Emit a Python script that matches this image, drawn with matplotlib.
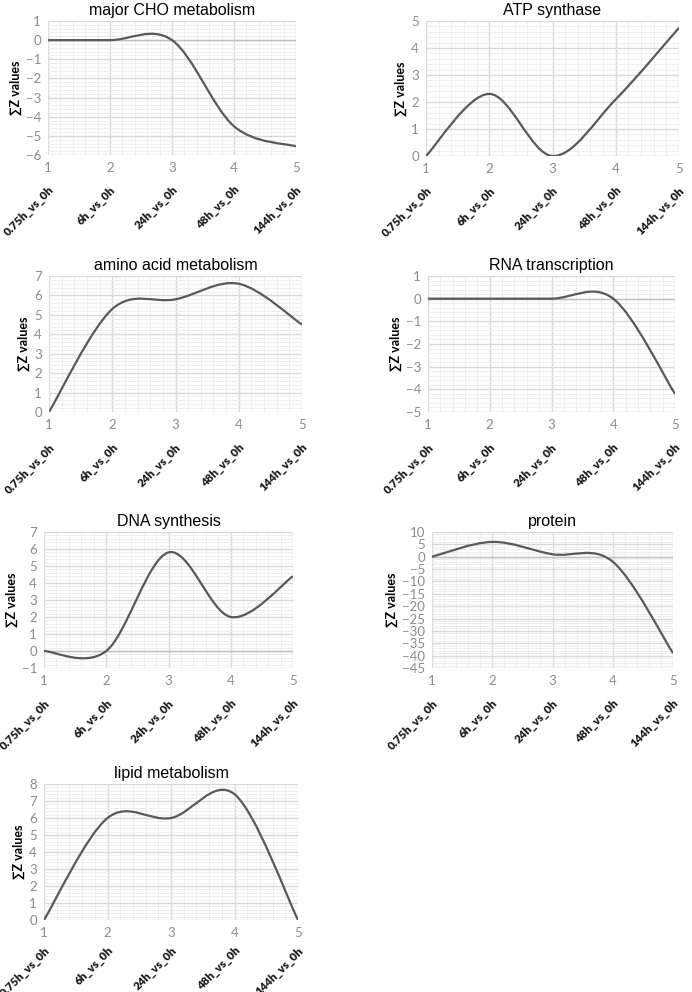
import matplotlib
matplotlib.use("Agg")
import matplotlib.pyplot as plt
from matplotlib.path import Path
from matplotlib.patches import PathPatch
from matplotlib.ticker import MultipleLocator, AutoMinorLocator
import matplotlib.transforms as mtransforms

plt.rcParams['font.family'] = ['Lato', 'DejaVu Sans']

x = [1, 2, 3, 4, 5]
cats = ["0.75h_vs_0h", "6h_vs_0h", "24h_vs_0h", "48h_vs_0h", "144h_vs_0h"]

cho = [0, 0, 0, -4.5, -5.55]
atp = [0, 2.3, 0, 2.1, 4.75]
amino = [0, 5.3, 5.8, 6.6, 4.5]
rna = [0, 0, 0, 0, -4.2]
dna = [0, 0, 5.8, 2.0, 4.4]
protein = [0, 6, 1, -2, -39]
lipid = [0, 6, 6, 7.4, 0]

titles = ["major CHO metabolism", "ATP synthase", "amino acid metabolism",
          "RNA transcription", "DNA synthesis", "protein", "lipid metabolism"]
series = [cho, atp, amino, rna, dna, protein, lipid]
ylims = [(-6, 1), (0, 5), (0, 7), (-5, 1), (-1, 7), (-45, 10), (0, 8)]
ysteps = [1, 1, 1, 1, 1, 5, 1]

# axes boxes in pixels: left, right, top, bottom
boxes = [(48, 296, 21, 155), (426, 679, 21, 156),
         (49, 302, 276, 412), (428, 675, 276, 412),
         (44, 293, 532, 668), (432, 673, 532, 668),
         (44, 298, 784, 920)]

W, H = 692, 992
fig = plt.figure(figsize=(W / 100, H / 100), dpi=100)


def smooth_path(xs, ys):
    # excel style smoothed line: cubic bezier, catmull-rom tangents
    pts = list(zip(xs, ys))
    n = len(pts)
    verts = [pts[0]]
    codes = [Path.MOVETO]
    for i in range(n - 1):
        p0 = pts[max(i - 1, 0)]
        p1 = pts[i]
        p2 = pts[i + 1]
        p3 = pts[min(i + 2, n - 1)]
        c1 = (p1[0] + (p2[0] - p0[0]) / 6, p1[1] + (p2[1] - p0[1]) / 6)
        c2 = (p2[0] - (p3[0] - p1[0]) / 6, p2[1] - (p3[1] - p1[1]) / 6)
        verts += [c1, c2, p2]
        codes += [Path.CURVE4] * 3
    return Path(verts, codes)


for k in range(7):
    l, r, t, b = boxes[k]
    ax = fig.add_axes([l / W, 1 - b / H, (r - l) / W, (b - t) / H])
    ax.add_patch(PathPatch(smooth_path(x, series[k]), fill=False,
                           edgecolor="#595959", lw=1.6, zorder=3))
    ax.set_xlim(1, 5)
    ax.set_ylim(*ylims[k])
    ax.xaxis.set_major_locator(MultipleLocator(1))
    ax.yaxis.set_major_locator(MultipleLocator(ysteps[k]))
    ax.xaxis.set_minor_locator(AutoMinorLocator(5))
    ax.yaxis.set_minor_locator(AutoMinorLocator(5))
    ax.grid(which="major", color="#d9d9d9", lw=1.0)
    ax.grid(which="minor", color="#ececec", lw=0.6)
    ax.set_axisbelow(True)
    for s in ax.spines.values():
        s.set_visible(False)
    if ylims[k][0] < 0 < ylims[k][1]:
        ax.axhline(0, color="#bfbfbf", lw=1.0, zorder=2)
    ax.tick_params(which="both", length=0, labelsize=9.5, labelcolor="#8c8c8c", pad=5)
    ax.set_title(titles[k], fontsize=11.5, pad=4, family=["Liberation Sans", "DejaVu Sans"])
    ax.set_ylabel("∑Z values", fontsize=9, fontweight="bold", labelpad=3)
    trans = mtransforms.blended_transform_factory(ax.transData, ax.transAxes)
    yoff = -0.21 if k == 6 else -0.245
    for xi, c in zip(x, cats):
        ax.text(xi + 0.06, yoff, c, transform=trans, rotation=45,
                rotation_mode="anchor", ha="right", va="center",
                fontsize=8.3, fontweight="heavy", color="#1a1a1a")

fig.savefig("out.png", dpi=100, facecolor="white")
